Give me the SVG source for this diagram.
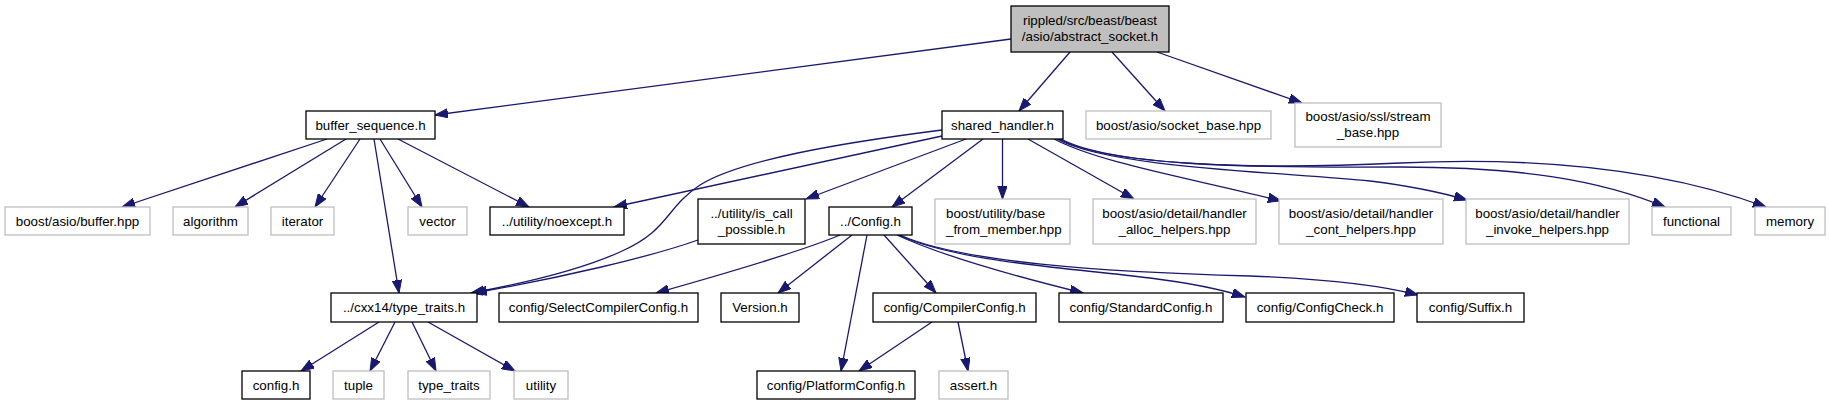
<svg xmlns="http://www.w3.org/2000/svg" width="1829" height="405" viewBox="0 0 1829 405">
<style>
rect{stroke-width:1.3}
.b{fill:#fff;stroke:#000}
.g{fill:#fff;stroke:#bfbfbf}
.r{fill:#bfbfbf;stroke:#000}
text{font-family:"Liberation Sans",Arial,sans-serif;font-size:13.33px;fill:#000;text-anchor:middle}
.s{text-anchor:start}
#edges path{fill:none;stroke:#191970;stroke-width:1.3;marker-end:url(#ah)}
</style>
<defs>
<marker id="ah" markerUnits="userSpaceOnUse" markerWidth="14" markerHeight="10" refX="13" refY="4.7" orient="auto">
<path d="M0,0 L13,4.7 L0,9.4 z" fill="#191970" stroke="#191970" stroke-width="1"/>
</marker>
</defs>
<rect width="1829" height="405" fill="#fff"/>
<g id="edges">
<path d="M1011,39 L435,115"/>
<path d="M1070,52 L1019,111"/>
<path d="M1112,52 L1165,111"/>
<path d="M1157,52 L1302,103"/>
<path d="M327,139 L122,207"/>
<path d="M346,139 L235,207"/>
<path d="M360,139 L315,207"/>
<path d="M380,139 L422,207"/>
<path d="M398,139 L529,207"/>
<path d="M374,139 L399,293"/>
<path d="M942,136 L614,207"/>
<path d="M942,130 C840,143 740,160 700,185 C665,208 670,230 620,252 C580,270 520,284 471,293"/>
<path d="M966,139 L806,199"/>
<path d="M983,139 L892,207"/>
<path d="M1002.5,139 L1002.5,199"/>
<path d="M1028,139 L1134,199"/>
<path d="M1054,139 C1100,163 1190,178 1281,201"/>
<path d="M1057,139 C1110,168 1280,172 1370,181 C1410,186 1440,192 1467,200"/>
<path d="M1059,139 C1110,166 1250,168 1400,167 C1520,167 1600,180 1665,207"/>
<path d="M1061,139 C1110,165 1250,170 1400,163 C1530,157 1660,168 1766,207"/>
<path d="M698,240 C650,257 560,278 474,293"/>
<path d="M840,235 C800,252 720,275 656,293"/>
<path d="M852,235 L778,293"/>
<path d="M867,235 L841,371"/>
<path d="M884,235 L936,293"/>
<path d="M897,235 C940,255 1010,275 1083,293"/>
<path d="M898,235 C960,262 1060,267 1150,278 C1190,283 1220,289 1245,297"/>
<path d="M900,235 C960,262 1100,272 1250,276 C1330,279 1380,285 1418,295"/>
<path d="M379,322 L301,371"/>
<path d="M395,322 L370,371"/>
<path d="M412,322 L436,371"/>
<path d="M428,322 L515,371"/>
<path d="M932,322 L859,371"/>
<path d="M958,322 L968,371"/>
</g>
<g id="root"><rect class="r" x="1011" y="6" width="158" height="46"/><text x="1090" y="25">rippled/src/beast/beast</text><text x="1090" y="41">/asio/abstract_socket.h</text></g>
<g id="buffer_sequence"><rect class="b" x="306" y="111" width="129" height="28"/><text x="370.5" y="129.8">buffer_sequence.h</text></g>
<g id="shared_handler"><rect class="b" x="942" y="111" width="121" height="28"/><text x="1002.5" y="129.8">shared_handler.h</text></g>
<g id="socket_base"><rect class="g" x="1086" y="111" width="185" height="28"/><text x="1178.5" y="129.8">boost/asio/socket_base.hpp</text></g>
<g id="stream_base"><rect class="g" x="1295" y="103" width="146" height="44"/><text x="1368" y="121">boost/asio/ssl/stream</text><text x="1368" y="137">_base.hpp</text></g>
<g id="buffer_hpp"><rect class="g" x="5" y="207" width="145" height="28"/><text x="77.5" y="225.8">boost/asio/buffer.hpp</text></g>
<g id="algorithm"><rect class="g" x="173" y="207" width="75" height="28"/><text x="210.5" y="225.8">algorithm</text></g>
<g id="iterator"><rect class="g" x="271" y="207" width="63" height="28"/><text x="302.5" y="225.8">iterator</text></g>
<g id="vector"><rect class="g" x="408" y="207" width="59" height="28"/><text x="437.5" y="225.8">vector</text></g>
<g id="noexcept"><rect class="b" x="490" y="207" width="134" height="28"/><text x="557" y="225.8">../utility/noexcept.h</text></g>
<g id="is_call_possible"><rect class="b" x="698" y="199" width="107" height="45"/><text x="751.5" y="217.5">../utility/is_call</text><text x="751.5" y="233.5">_possible.h</text></g>
<g id="config_h"><rect class="b" x="829" y="207" width="83" height="28"/><text x="870.5" y="225.8">../Config.h</text></g>
<g id="base_from_member"><rect class="g" x="935" y="199" width="135" height="45"/><text class="s" x="946" y="217.5">boost/utility/base</text><text class="s" x="946" y="233.5">_from_member.hpp</text></g>
<g id="alloc_helpers"><rect class="g" x="1093" y="199" width="163" height="45"/><text x="1174.5" y="217.5">boost/asio/detail/handler</text><text x="1174.5" y="233.5">_alloc_helpers.hpp</text></g>
<g id="cont_helpers"><rect class="g" x="1279" y="199" width="164" height="45"/><text x="1361" y="217.5">boost/asio/detail/handler</text><text x="1361" y="233.5">_cont_helpers.hpp</text></g>
<g id="invoke_helpers"><rect class="g" x="1466" y="199" width="163" height="45"/><text x="1547.5" y="217.5">boost/asio/detail/handler</text><text x="1547.5" y="233.5">_invoke_helpers.hpp</text></g>
<g id="functional"><rect class="g" x="1652" y="207" width="79" height="28"/><text x="1691.5" y="225.8">functional</text></g>
<g id="memory"><rect class="g" x="1755" y="207" width="70" height="28"/><text x="1790" y="225.8">memory</text></g>
<g id="cxx14_type_traits"><rect class="b" x="331" y="293" width="146" height="29"/><text x="404" y="312.3">../cxx14/type_traits.h</text></g>
<g id="select_compiler_config"><rect class="b" x="499" y="293" width="199" height="29"/><text x="598.5" y="312.3">config/SelectCompilerConfig.h</text></g>
<g id="version"><rect class="b" x="721" y="293" width="78" height="29"/><text x="760" y="312.3">Version.h</text></g>
<g id="compiler_config"><rect class="b" x="873" y="293" width="163" height="29"/><text x="954.5" y="312.3">config/CompilerConfig.h</text></g>
<g id="standard_config"><rect class="b" x="1059" y="293" width="164" height="29"/><text x="1141" y="312.3">config/StandardConfig.h</text></g>
<g id="config_check"><rect class="b" x="1246" y="293" width="148" height="29"/><text x="1320" y="312.3">config/ConfigCheck.h</text></g>
<g id="suffix"><rect class="b" x="1417" y="293" width="107" height="29"/><text x="1470.5" y="312.3">config/Suffix.h</text></g>
<g id="config_h2"><rect class="b" x="242" y="371" width="68" height="28"/><text x="276" y="389.8">config.h</text></g>
<g id="tuple"><rect class="g" x="333" y="371" width="51" height="28"/><text x="358.5" y="389.8">tuple</text></g>
<g id="type_traits"><rect class="g" x="408" y="371" width="82" height="28"/><text x="449" y="389.8">type_traits</text></g>
<g id="utility"><rect class="g" x="514" y="371" width="54" height="28"/><text x="541" y="389.8">utility</text></g>
<g id="platform_config"><rect class="b" x="757" y="371" width="158" height="28"/><text x="836" y="389.8">config/PlatformConfig.h</text></g>
<g id="assert_h"><rect class="g" x="939" y="371" width="69" height="28"/><text x="973.5" y="389.8">assert.h</text></g>
</svg>
